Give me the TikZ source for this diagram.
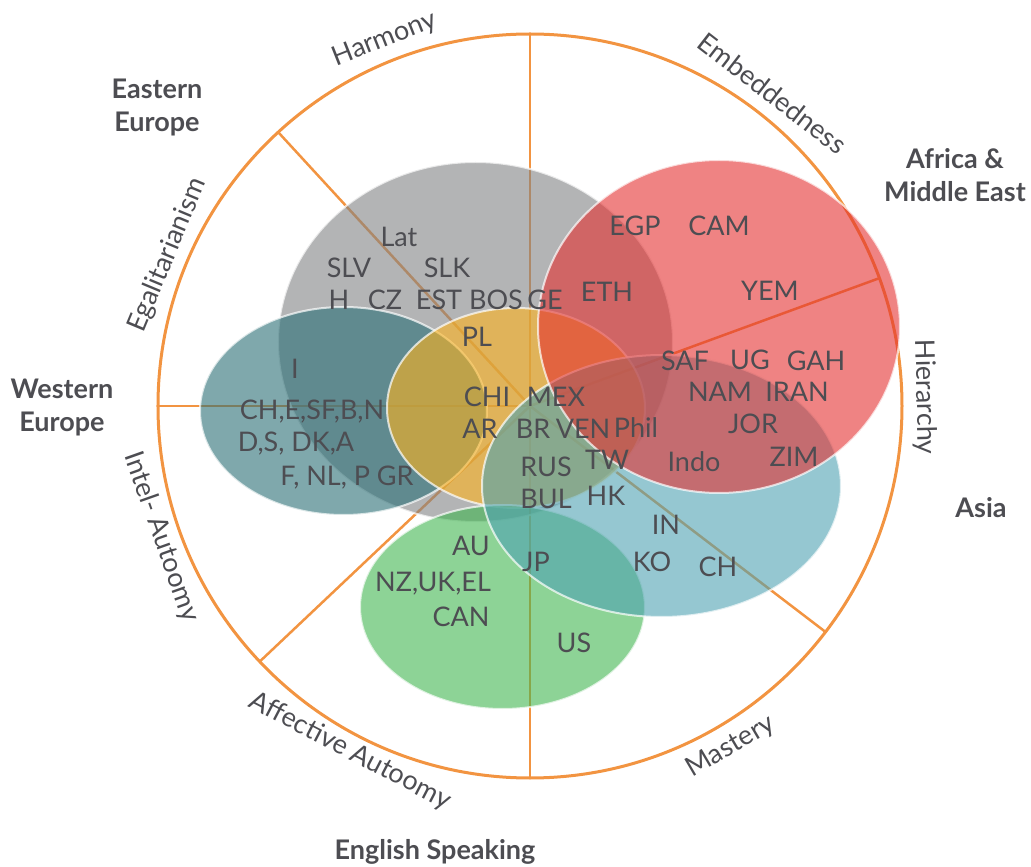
\documentclass[tikz,border=0pt]{standalone}
\usepackage{fontspec}
\setmainfont{Lato}
\usetikzlibrary{positioning}

\definecolor{ink}{RGB}{77,77,82}
\definecolor{ring}{RGB}{242,148,65}
\definecolor{grayblob}{RGB}{128,130,132}
\definecolor{redblob}{RGB}{228,48,48}
\definecolor{tealblob}{RGB}{42,110,117}
\definecolor{yellowblob}{RGB}{255,180,29}
\definecolor{blueblob}{RGB}{78,162,178}
\definecolor{greenblob}{RGB}{65,181,80}

\tikzset{
  spoke/.style={ring, line width=2.5pt},
  blob/.style={fill=#1, fill opacity=.6, draw=white, draw opacity=.7, line width=2pt},
  country/.style={text=ink, inner sep=0pt, text height=19pt, text depth=0pt,
    font=\fontsize{27}{32}\selectfont},
  value/.style={text=ink, inner sep=0pt, text height=19pt, text depth=5pt,
    font=\fontsize{27}{32}\selectfont},
  region/.style={text=ink, align=center, inner sep=0pt,
    font=\fontsize{27}{33}\selectfont\bfseries}
}

\begin{document}
\begin{tikzpicture}[x=1pt,y=1pt]
\useasboundingbox (-530,-461) rectangle (501,406);
\coordinate (c) at (0,0);
% spokes and outer ring
\foreach \ang [count=\i] in {90,132.6,180,223.4,270,322.6,20.1}{
  \coordinate (s\i) at (\ang:372);
  \draw[spoke] (c) -- (s\i);
}
\draw[ring, line width=3pt] (c) circle[radius=372];
% the six blobs
\fill[blob=grayblob] (-54.5,64) ellipse[x radius=197.5, y radius=180];
\fill[blob=tealblob] (-186.5,-5) ellipse[x radius=143.5, y radius=104];
\fill[blob=yellowblob] (-14,-2) ellipse[x radius=129, y radius=100];
\fill[blob=greenblob] (-27.5,-201) ellipse[x radius=142.5, y radius=102];
\fill[blob=blueblob] (131.5,-80) ellipse[x radius=179.5, y radius=131];
\fill[blob=redblob] (189,79.5) ellipse[x radius=181, y radius=166.5];
% values round the ring
\node[value, rotate=21.6] (harmony) at (111.6:394) {Harmony};
\node[value, rotate=-37.8] (embed) at (52.2:393) {Embeddedness};
\node[value, rotate=67.4] (egal) at (157.4:392) {Egalitarianism};
\node[value, rotate=-70.5] (intel) at (199.5:392) {Intel- Autoomy};
\node[value, rotate=-27.5] (affect) at (242.5:390) {Affective Autoomy};
\node[value, rotate=30.5] (mastery) at (300.5:396) {Mastery};
\node[value, rotate=-88.7] (hier) at (1.3:394) {Hierarchy};
% regions
\node[region] (easteu) at (-373,298) {Eastern\\Europe};
\node[region] (westeu) at (-468,-2) {Western\\Europe};
\node[region] (africa) at (425,231) {Africa \&\\Middle East};
\node[region] (asia) at (451,-102) {Asia};
\node[region] (english) at (-95,-446) {English Speaking};
% eastern europe
\node[country] (lat) at (-131,169) {Lat};
\node[country] (slv) at (-181,138) {SLV};
\node[country] (slk) at (-83,138) {SLK};
\node[country] (h) at (-191,106) {H};
\node[country] (cz) at (-145,106) {CZ};
\node[country] (est) at (-91,106) {EST};
\node[country] (bos) at (-34,106) {BOS};
\node[country] (ge) at (15,106) {GE};
\node[country] (pl) at (-53,69) {PL};
% africa and middle east
\node[country] (eth) at (77,114) {ETH};
\node[country] (egp) at (105,180) {EGP};
\node[country] (cam) at (189,180) {CAM};
\node[country] (yem) at (240,115) {YEM};
\node[country] (saf) at (155,45) {SAF};
\node[country] (ug) at (220,46) {UG};
\node[country] (gah) at (286,45) {GAH};
\node[country] (nam) at (190,14) {NAM};
\node[country] (iran) at (267,14) {IRAN};
\node[country] (jor) at (223,-18) {JOR};
\node[country] (zim) at (264,-51) {ZIM};
\node[country] (indo) at (164,-56) {Indo};
\node[country] (phil) at (106,-22) {Phil};
% latin america and asia
\node[country] (mex) at (26,9) {MEX};
\node[country] (br) at (3,-23) {BR};
\node[country] (ven) at (53,-23) {VEN};
\node[country] (chi) at (-43,9) {CHI};
\node[country] (ar) at (-50,-23) {AR};
\node[country] (rus) at (16,-61) {RUS};
\node[country] (tw) at (77,-54) {TW};
\node[country] (bul) at (16,-93) {BUL};
\node[country] (hk) at (76,-90) {HK};
\node[country] (in) at (136,-119) {IN};
\node[country] (ko) at (122,-156) {KO};
\node[country] (ch) at (188,-161) {CH};
\node[country] (jp) at (6,-156) {JP};
% english speaking
\node[country] (au) at (-59,-140) {AU};
\node[country] (nzukel) at (-97,-176) {NZ,UK,EL};
\node[country] (can) at (-69,-211) {CAN};
\node[country] (us) at (44,-237) {US};
% western europe
\node[country] (i) at (-235,37) {I};
\node[country] (chesf) at (-218,-4) {CH,E,SF,B,N};
\node[country] (dsdk) at (-234,-36) {D,S, DK,A};
\node[country] (fnlp) at (-183,-70) {F, NL, P GR};
\end{tikzpicture}
\end{document}
